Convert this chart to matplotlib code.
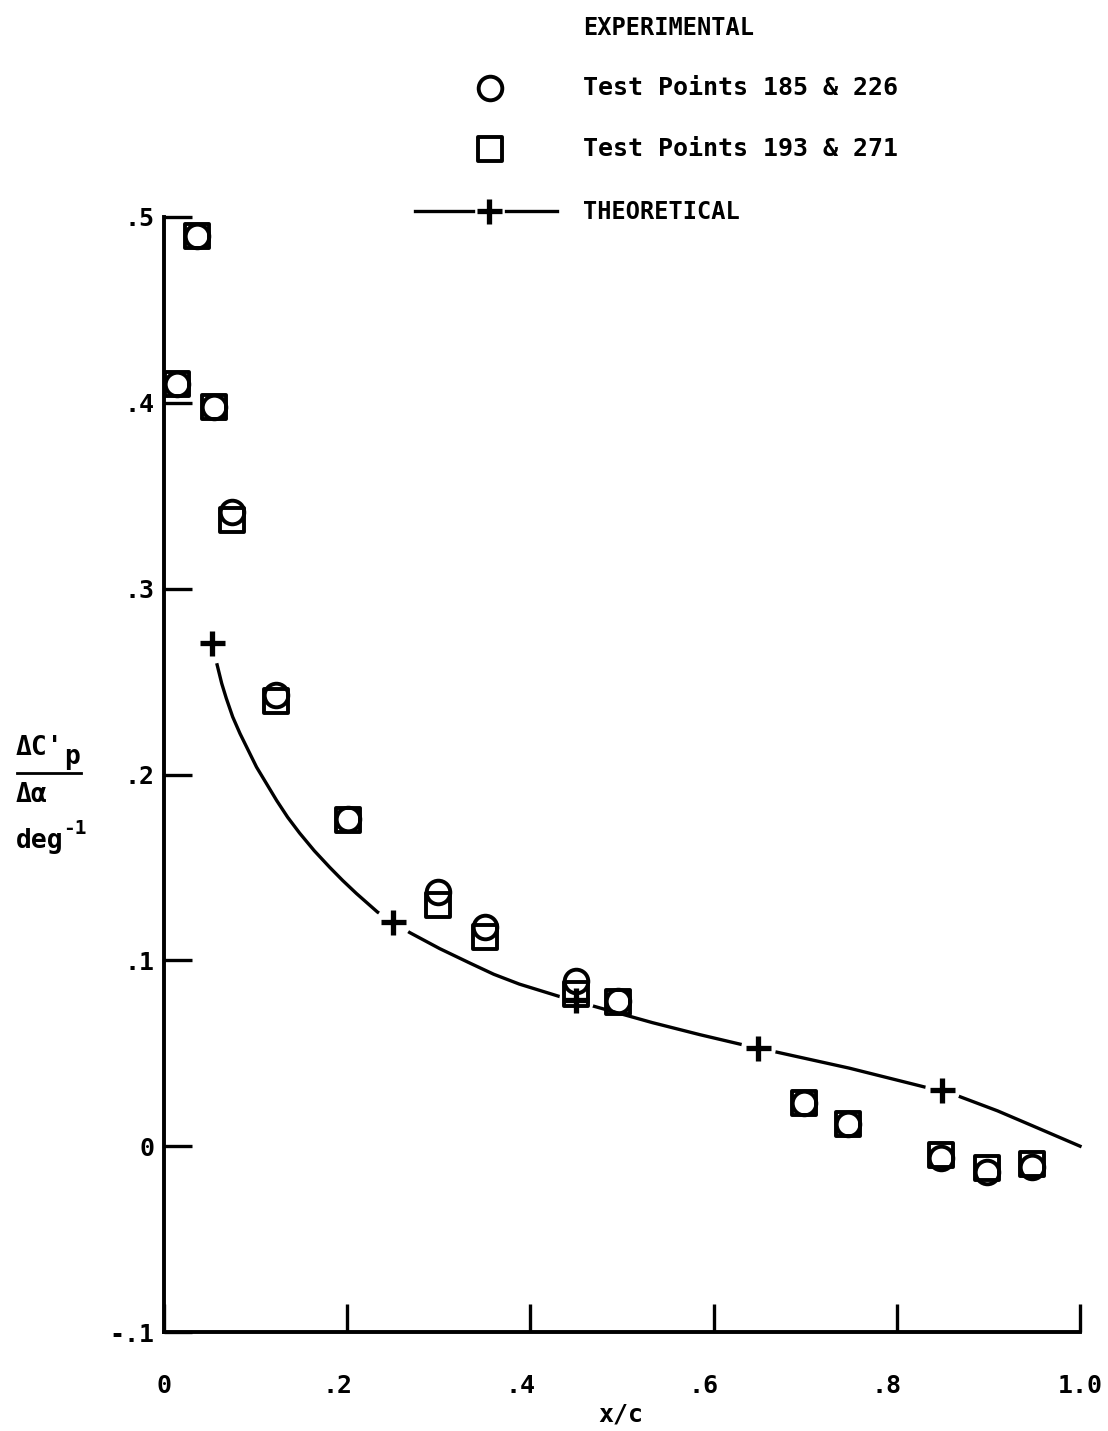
import matplotlib
matplotlib.use("Agg")
import matplotlib.pyplot as plt
from matplotlib.lines import Line2D
from matplotlib.markers import MarkerStyle
from matplotlib.transforms import ScaledTranslation

plt.rcParams['font.family'] = ['DejaVu Sans Mono', 'DejaVu Sans']
plt.rcParams['font.size'] = 18
plt.rcParams['font.weight'] = 'bold'

# Experimental chordwise stations x/c
x_exp = [0.014, 0.036, 0.055, 0.074, 0.122, 0.201, 0.299, 0.350,
         0.450, 0.496, 0.699, 0.747, 0.848, 0.898, 0.948]
# Test Points 185 & 226 (circles)
y_tp185 = [0.410, 0.490, 0.398, 0.341, 0.243, 0.176, 0.137, 0.118,
           0.089, 0.078, 0.023, 0.012, -0.0065, -0.014, -0.011]
# Test Points 193 & 271 (squares)
y_tp193 = [0.410, 0.490, 0.398, 0.337, 0.2395, 0.1755, 0.130, 0.1125,
           0.082, 0.0775, 0.023, 0.012, -0.005, -0.0118, -0.0097]

# Theoretical distribution
x_theory = [0.058, 0.063, 0.068, 0.075, 0.083, 0.092, 0.101, 0.112, 0.123,
            0.135, 0.148, 0.164, 0.181, 0.195, 0.210, 0.233, 0.250, 0.268,
            0.301, 0.334, 0.360, 0.388, 0.432, 0.450, 0.470, 0.533, 0.585,
            0.628, 0.648, 0.669, 0.748, 0.825, 0.849, 0.868, 0.910, 0.948, 1.000]
y_theory = [0.259, 0.249, 0.241, 0.231, 0.222, 0.213, 0.204, 0.195, 0.186,
            0.177, 0.1685, 0.159, 0.150, 0.143, 0.136, 0.126, 0.1205, 0.115,
            0.1063, 0.0985, 0.0925, 0.0872, 0.0805, 0.0780, 0.0752, 0.0665, 0.0600,
            0.0550, 0.0527, 0.0506, 0.0420, 0.0325, 0.0295, 0.0268, 0.0190, 0.0110, 0.000]
# Computed stations marked with crosses
x_theory_pts = [0.052, 0.250, 0.450, 0.648, 0.849]
y_theory_pts = [0.2707, 0.1206, 0.0786, 0.0527, 0.0301]

x_ticks = [0.0, 0.2, 0.4, 0.6, 0.8, 1.0]
x_ticklabels = ['0', '.2', '.4', '.6', '.8', '1.0']
y_ticks = [-0.1, 0.0, 0.1, 0.2, 0.3, 0.4, 0.5]
y_ticklabels = ['-.1', '0', '.1', '.2', '.3', '.4', '.5']

W, H = 1108, 1431
fig = plt.figure(figsize=(W / 100, H / 100), dpi=100)


def fx(p):
    return p / W


def fy(p):
    return 1 - p / H


ax = fig.add_axes([fx(164), fy(1332), (1080 - 164) / W, (1332 - 217) / H])
ax.set_xlim(0, 1.0)
ax.set_ylim(-0.1, 0.5)

for s in ('top', 'right'):
    ax.spines[s].set_visible(False)
for s in ('left', 'bottom'):
    ax.spines[s].set_linewidth(2.8)
    ax.spines[s].set_capstyle('projecting')

ax.set_xticks(x_ticks)
ax.set_xticklabels(x_ticklabels)
ax.set_yticks(y_ticks)
ax.set_yticklabels(y_ticklabels)
ax.tick_params(axis='both', direction='in', length=20, width=2.4, labelsize=18)
ax.tick_params(axis='x', pad=30)
ax.tick_params(axis='y', pad=7)

# fractional labels sit with the digit over the tick
for lab in ax.get_xticklabels():
    if lab.get_text().startswith('.'):
        lab.set_transform(lab.get_transform() +
                          ScaledTranslation(-10 / 100, 0, fig.dpi_scale_trans))

marker_kw = dict(linestyle='none', markerfacecolor='none', markeredgecolor='black',
                 markersize=17, markeredgewidth=2.8, clip_on=False)
sq = MarkerStyle('s', joinstyle='round')
circ = MarkerStyle('o')

# theoretical curve, broken around each computed station
ax.plot(x_theory, y_theory, color='black', lw=2.4, zorder=2, clip_on=False,
        solid_joinstyle='round')
ax.plot(x_theory_pts, y_theory_pts, linestyle='none', marker='o', markersize=25,
        markerfacecolor='white', markeredgewidth=0, zorder=3, clip_on=False)

ax.plot(x_exp, y_tp193, marker=sq, zorder=4, **marker_kw)
ax.plot(x_exp, y_tp185, marker=circ, zorder=4, **marker_kw)

ax.plot(x_theory_pts, y_theory_pts, linestyle='none', marker='+', markersize=18,
        markeredgewidth=3.8, color='black', zorder=5, clip_on=False)

# axis labels
fig.text(fx(621), fy(1415), 'x/c', ha='center', va='center', fontsize=18)
fig.text(fx(16), fy(755), "\u0394C'", ha='left', va='baseline', fontsize=19)
fig.text(fx(64), fy(764), 'p', ha='left', va='baseline', fontsize=19)
fig.add_artist(Line2D([fx(17), fx(81)], [fy(773), fy(773)], color='black', lw=2.0))
fig.text(fx(16), fy(802), '\u0394\u03b1', ha='left', va='baseline', fontsize=19)
fig.text(fx(16), fy(848), 'deg', ha='left', va='baseline', fontsize=19)
fig.text(fx(63), fy(834), '-1', ha='left', va='baseline', fontsize=14)

# key
tx = 583
fig.text(fx(tx), fy(28), 'EXPERIMENTAL', ha='left', va='center', fontsize=17)
fig.text(fx(tx), fy(88), 'Test Points 185 & 226', ha='left', va='center', fontsize=18)
fig.text(fx(tx), fy(149), 'Test Points 193 & 271', ha='left', va='center', fontsize=18)
fig.text(fx(tx), fy(212), 'THEORETICAL', ha='left', va='center', fontsize=17)
fig.add_artist(Line2D([fx(490)], [fy(88)], marker=circ, markersize=17,
                      markeredgewidth=2.8, markerfacecolor='none', markeredgecolor='black'))
fig.add_artist(Line2D([fx(490)], [fy(149)], marker=sq, markersize=17,
                      markeredgewidth=2.8, markerfacecolor='none', markeredgecolor='black'))
fig.add_artist(Line2D([fx(415), fx(473)], [fy(211), fy(211)], color='black', lw=2.4))
fig.add_artist(Line2D([fx(506), fx(557)], [fy(211), fy(211)], color='black', lw=2.4))
fig.add_artist(Line2D([fx(489)], [fy(211)], marker='+', markersize=18,
                      markeredgewidth=3.8, color='black'))

fig.savefig('out.png', dpi=100)
